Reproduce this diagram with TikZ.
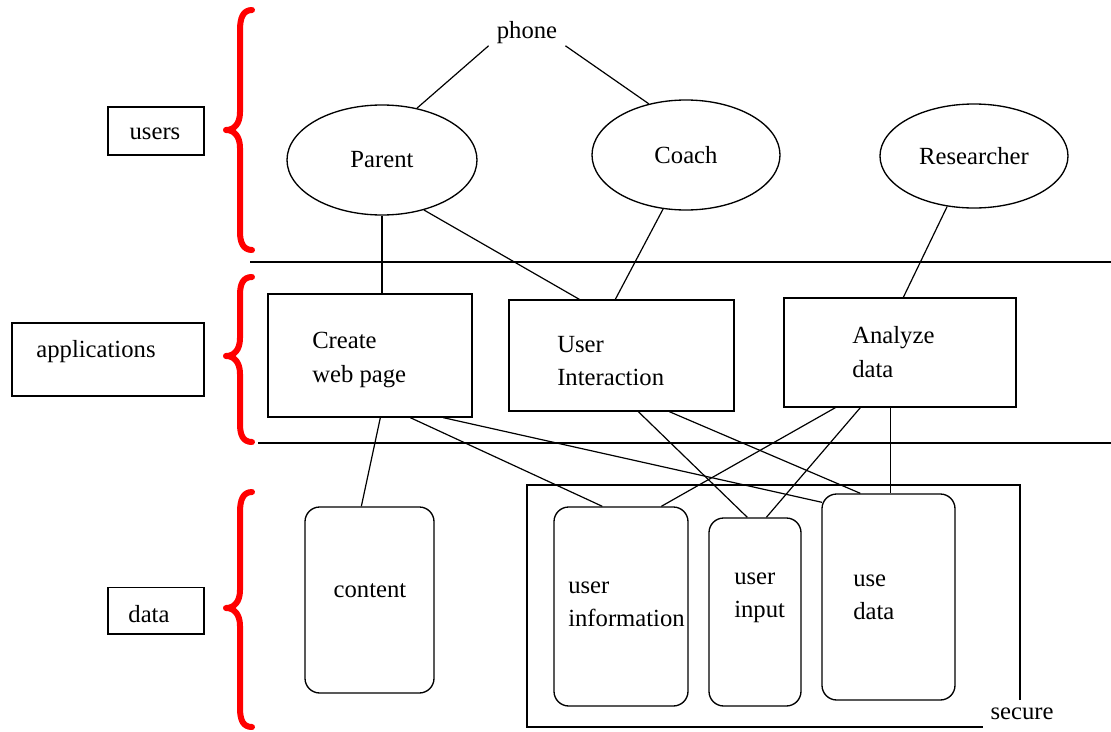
\documentclass[tikz,border=0pt]{standalone}
\usepackage{fontspec}
\setmainfont{Liberation Serif}
\usetikzlibrary{shapes.geometric}
\begin{document}
\begin{tikzpicture}[x=0.75pt,y=-0.75pt,
  ln/.style={line width=0.9pt},
  redbrace/.style={red, line width=4.5pt, line cap=round, line join=round},
  box/.style={draw, line width=1pt, inner sep=0pt},
  rbox/.style={draw, line width=1pt, rounded corners=11pt, inner sep=0pt},
  ell/.style={draw, ellipse, line width=1pt, inner sep=0pt, font=\fontsize{18.5}{25}\selectfont},
  txt/.style={font=\fontsize{18.5}{25}\selectfont, inner sep=0pt, align=left},
]
\useasboundingbox (0,0) rectangle (1111,732);

% braces
\draw[redbrace] (252,10) .. controls (243,10) and (240,18) .. (240,30) -- (240,112)
  .. controls (240,124) and (234,130) .. (226,130) .. controls (234,130) and (240,136) .. (240,148)
  -- (240,232) .. controls (240,242) and (243,250) .. (252,250);
\draw[redbrace] (252,277) .. controls (243,277) and (240,284) .. (240,295) -- (240,338)
  .. controls (240,350) and (234,356) .. (226,356) .. controls (234,356) and (240,362) .. (240,374)
  -- (240,424) .. controls (240,435) and (243,442) .. (252,442);
\draw[redbrace] (252,492) .. controls (243,492) and (240,500) .. (240,512) -- (240,590)
  .. controls (240,602) and (234,608) .. (226,608) .. controls (234,608) and (240,614) .. (240,626)
  -- (240,708) .. controls (240,720) and (243,727) .. (252,727);

% layer separators
\draw[ln] (250,262) -- (1111,262);
\draw[ln] (258,443) -- (1111,443);

% layer labels
\node[box, minimum width=72pt, minimum height=36pt] (lusers) at (156,131) {};
\node[txt] (tusers) at (155,134) {users};
\node[box, minimum width=144pt, minimum height=54.75pt] (lapps) at (108,359.5) {};
\node[txt] (tapps) at (96,352) {applications};
\node[box, minimum width=72pt, minimum height=35pt] (ldata) at (156,610.5) {};
\node[txt] (tdata) at (149,614) {data};

% users
\node[txt] (phone) at (527,33) {phone};
\node[ell, minimum width=142.5pt, minimum height=82.5pt] (parent) at (382,160) {Parent};
\node[ell, minimum width=141pt, minimum height=82.5pt] (coach) at (686,155) {Coach};
\node[ell, minimum width=141pt, minimum height=78pt] (researcher) at (974,156) {Researcher};

% applications
\node[box, minimum width=153pt, minimum height=92.25pt] (create) at (370,355.5) {};
\node[txt, anchor=west] (tcreate) at (312,360) {Create\\web page};
\node[box, minimum width=168.75pt, minimum height=83.25pt] (ui) at (621.5,355.5) {};
\node[txt, anchor=west] (tui) at (557,361) {User\\Interaction};
\node[box, minimum width=174pt, minimum height=81.75pt] (analyze) at (900,352.5) {};
\node[txt, anchor=west] (tanalyze) at (852,352) {Analyze\\data};

% data
\node[rbox, minimum width=96.75pt, minimum height=139.5pt] (content) at (369.5,600) {};
\node[txt] (tcontent) at (370,591) {content};
\draw[ln] (1020,700) -- (1020,485) -- (527,485) -- (527,727) -- (983,727);
\node[txt] (secure) at (1022,714) {secure};
\node[rbox, minimum width=100.5pt, minimum height=149.25pt] (uinfo) at (621,606.5) {};
\node[txt, anchor=west] (tuinfo) at (568,604) {user\\information};
\node[rbox, minimum width=69pt, minimum height=141pt] (uinput) at (755,612) {};
\node[txt, anchor=west] (tuinput) at (734,598) {user\\input};
\node[rbox, minimum width=99.75pt, minimum height=154.5pt] (usedata) at (888.5,597) {};
\node[txt, anchor=west] (tusedata) at (853,597) {use\\data};

% connectors
\draw[ln] ([xshift=-6pt,yshift=-1pt]phone.south west) -- (parent.56);
\draw[ln] ([xshift=6pt,yshift=-1pt]phone.south east) -- (coach.126);
\draw[ln] (parent.south) -- (parent.south |- create.north);
\draw[ln] (parent.-50) -- ([xshift=53.25pt]ui.north west);
\draw[ln] (coach.-113) -- ([xshift=80.25pt]ui.north west);
\draw[ln] (researcher.-118) -- ([xshift=90pt]analyze.north west);
\draw[ln] ([xshift=84.75pt]create.south west) -- ([xshift=42.75pt]content.north west);
\draw[ln] ([xshift=107.25pt]create.south west) -- ([xshift=36.75pt]uinfo.north west);
\draw[ln] ([xshift=132pt]create.south west) -- ([xshift=0.5pt,yshift=-6.75pt]usedata.north west);
\draw[ln] ([xshift=97.5pt]ui.south west) -- ([xshift=29.25pt]uinput.north west);
\draw[ln] ([xshift=120.75pt]ui.south west) -- ([xshift=29.25pt]usedata.north west);
\draw[ln] ([xshift=39pt]analyze.south west) -- ([xshift=81pt]uinfo.north west);
\draw[ln] ([xshift=57.75pt]analyze.south west) -- ([xshift=43.5pt]uinput.north west);
\draw[ln] ([xshift=80.25pt]analyze.south west) -- ([xshift=51.75pt]usedata.north west);
\end{tikzpicture}
\end{document}
